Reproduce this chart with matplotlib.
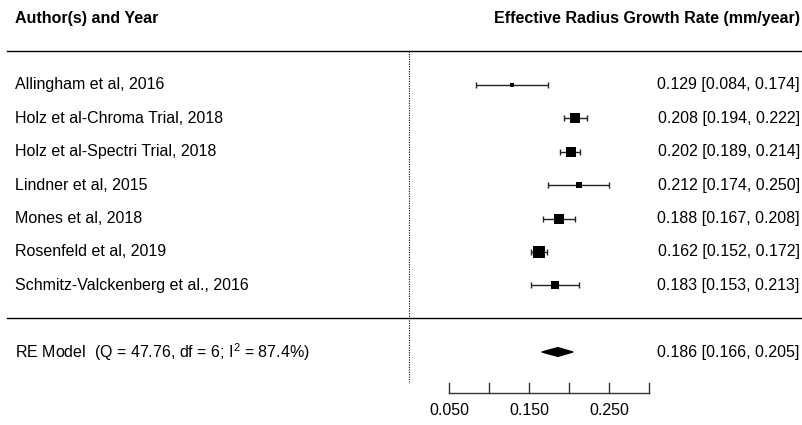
import matplotlib.pyplot as plt
from matplotlib.patches import Polygon

plt.rcParams['font.family'] = ['Liberation Sans', 'DejaVu Sans']
plt.rcParams['mathtext.fontset'] = 'custom'
plt.rcParams['mathtext.rm'] = 'Liberation Sans'

# study data
studies = [
    "Allingham et al, 2016",
    "Holz et al-Chroma Trial, 2018",
    "Holz et al-Spectri Trial, 2018",
    "Lindner et al, 2015",
    "Mones et al, 2018",
    "Rosenfeld et al, 2019",
    "Schmitz-Valckenberg et al., 2016",
]
est = [0.129, 0.208, 0.202, 0.212, 0.188, 0.162, 0.183]
lower = [0.084, 0.194, 0.189, 0.174, 0.167, 0.152, 0.153]
upper = [0.174, 0.222, 0.214, 0.250, 0.208, 0.172, 0.213]
weights = [4, 10, 10, 5, 8.5, 12, 7]  # relative

re_est, re_lo, re_hi = 0.186, 0.166, 0.205
re_label = r"RE Model  (Q = 47.76, df = 6; I$^2$ = 87.4%)"

ticks = [0.05, 0.10, 0.15, 0.20, 0.25, 0.30]
tick_labels = ["0.050", "", "0.150", "", "0.250", ""]

fig = plt.figure(figsize=(8.03, 4.25), dpi=100)
ax = fig.add_axes([0, 0, 1, 1])
ax.set_xlim(0.05 - 449 / 800, 0.05 + (803 - 449) / 800)
ax.set_ylim(-(425 - 85) / 33.375, 85 / 33.375)
ax.axis('off')

x_left = -0.4925
x_right = 0.4885
fs = 11.5

# header
ax.text(x_left, 2.0, "Author(s) and Year", fontsize=fs, fontweight='bold', va='center', ha='left')
ax.text(x_right, 2.0, "Effective Radius Growth Rate (mm/year)", fontsize=fs, fontweight='bold',
        va='center', ha='right')
ax.plot([-0.502, 0.4925], [1.01, 1.01], color='black', lw=1)
ax.plot([-0.502, 0.4925], [-6.98, -6.98], color='black', lw=1)

# reference line at 0
ax.plot([0, 0], [1.01, -8.9], color='black', lw=0.8, ls=(0, (1, 1.2)))

max_w = max(weights)
for i, name in enumerate(studies):
    y = -i
    ax.text(x_left, y, name, fontsize=fs, va='center', ha='left')
    ax.errorbar(est[i], y, xerr=[[est[i] - lower[i]], [upper[i] - est[i]]], fmt='none',
                ecolor='#222222', elinewidth=1, capsize=2.3, capthick=1)
    ax.plot(est[i], y, marker='s', color='black', ms=9.3 * weights[i] / max_w, mew=0)
    ax.text(x_right, y, f"{est[i]:.3f} [{lower[i]:.3f}, {upper[i]:.3f}]", fontsize=fs,
            va='center', ha='right')

# summary diamond
y_re = -8
h = 0.13
ax.add_patch(Polygon([(re_lo, y_re), (re_est, y_re + h), (re_hi, y_re), (re_est, y_re - h)],
                     closed=True, color='black'))
ax.text(x_left, y_re, re_label, fontsize=fs, va='center', ha='left')
ax.text(x_right, y_re, f"{re_est:.3f} [{re_lo:.3f}, {re_hi:.3f}]", fontsize=fs,
        va='center', ha='right')

# x axis
y_axis = -9.23
ax.plot([ticks[0], ticks[-1]], [y_axis, y_axis], color='#333333', lw=1)
for t, lab in zip(ticks, tick_labels):
    ax.plot([t, t], [y_axis, y_axis + 0.3], color='#333333', lw=1)
    if lab:
        ax.text(t, y_axis - 0.52, lab, fontsize=fs, va='center', ha='center')

fig.savefig("out.png", dpi=100)
